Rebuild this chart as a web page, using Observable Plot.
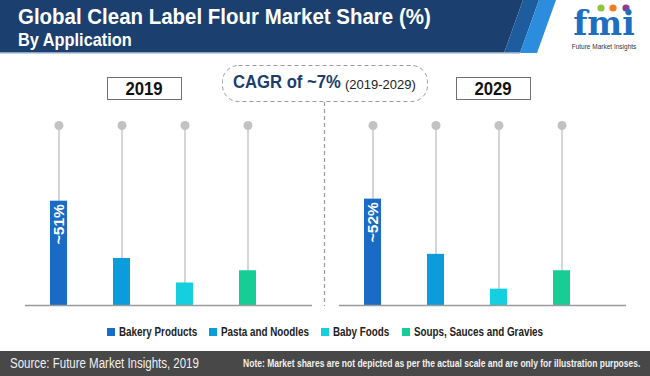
<!DOCTYPE html>
<html><head><meta charset="utf-8">
<script src="https://cdn.jsdelivr.net/npm/d3@7"></script>
<script src="https://cdn.jsdelivr.net/npm/@observablehq/plot@0.6"></script>
<style>
body{margin:0;background:#fff;}
#root{position:relative;width:650px;height:376px;overflow:hidden;background:#fff;font-family:"Liberation Sans",Arial,sans-serif;}
.abs{position:absolute;}
#title{left:18px;top:5px;color:#fff;font-weight:bold;font-size:22px;line-height:24px;white-space:nowrap;transform:scaleX(0.93);transform-origin:left top;}
#subtitle{left:18px;top:29px;color:#fff;font-weight:bold;font-size:19px;line-height:21px;white-space:nowrap;transform:scaleX(0.86);transform-origin:left top;}
.yearbox{top:77px;width:73px;height:21px;border:1.5px solid #707070;background:#fff;text-align:center;font-weight:bold;font-size:18px;line-height:22px;color:#111;}
.yearbox span{display:inline-block;transform:scaleX(0.93);}
.cg{white-space:nowrap;}
#cagrBig{left:233px;top:73px;font-weight:bold;font-size:18.5px;line-height:18.5px;color:#1b3e6f;transform:scaleX(0.9);transform-origin:left top;}
#cagrSmall{left:345px;top:78px;font-size:13px;line-height:13px;color:#222;}
#legend{left:0;top:325px;width:650px;display:flex;justify-content:center;font-weight:bold;font-size:12px;line-height:14px;color:#222;}
.item{display:flex;align-items:center;margin:0 6px;}
.sw{width:8px;height:8px;margin-right:4px;}
.lt{white-space:nowrap;}
.lt span{display:inline-block;transform:scaleX(0.82);transform-origin:left center;}
#footer{left:0;top:351px;width:650px;height:25px;background:#484848;}
#source{left:10px;top:4px;color:#f0f0f0;font-size:14px;line-height:17px;white-space:nowrap;transform:scaleX(0.82);transform-origin:left top;}
#note{right:10px;top:6px;color:#f0f0f0;font-weight:bold;font-size:10px;line-height:13px;white-space:nowrap;transform:scaleX(0.85);transform-origin:right top;}
</style></head><body><div id="root">
<svg class="abs" style="left:0;top:0" width="650" height="55">
<polygon points="0,0 523,0 504,53 0,53" fill="#1b3f6e"/>
<polygon points="523,0 539,0 520,53 504,53" fill="#1f5c9e"/>
<polygon points="539,0 556,0 537,53 520,53" fill="#2c8ddf"/>
<rect x="0" y="52" width="520" height="1.5" fill="#8aa4c4"/>
<circle cx="601" cy="8" r="3.6" fill="#8cc63f"/>
<circle cx="613" cy="8" r="3.6" fill="#f47b20"/>
<circle cx="626" cy="8" r="3.6" fill="#8e3a8e"/>
<text x="604" y="35" text-anchor="middle" font-family="DejaVu Serif" font-weight="bold" font-size="33" fill="#1f6fc1">fmi</text>
<text x="604" y="49" text-anchor="middle" font-family="Liberation Sans" font-size="6.5" fill="#333">Future Market Insights</text>
</svg>
<div id="title" class="abs">Global Clean Label Flour Market Share (%)</div>
<div id="subtitle" class="abs">By Application</div>
<div id="chart" class="abs" style="left:0;top:55px;"></div>
<svg class="abs" style="left:0;top:0" width="650" height="320">
<rect x="222.5" y="65.5" width="205" height="36" rx="16" ry="16" fill="#fff" stroke="#9a9a9a" stroke-width="1" stroke-dasharray="4,3"/>
<line x1="324.5" y1="102" x2="324.5" y2="306" stroke="#9a9a9a" stroke-width="1.2" stroke-dasharray="4,3"/>
</svg>
<div id="cagrBig" class="abs cg">CAGR of ~7%</div>
<div id="cagrSmall" class="abs cg">(2019-2029)</div>
<div id="y2019" class="abs yearbox" style="left:107px"></div>
<div id="y2029" class="abs yearbox" style="left:456px"></div>
<div id="legend" class="abs"></div>
<div id="footer" class="abs">
<div id="source" class="abs">Source: Future Market Insights, 2019</div>
<div id="note" class="abs">Note: Market shares are not depicted as per the actual scale and are only for illustration purposes.</div>
</div>
</div>
<script>
const years = ["2019", "2029"];
const categories = ["Bakery Products", "Pasta and Noodles", "Baby Foods", "Soups, Sauces and Gravies"];
const colors = ["#1a6bc5", "#0b9cdb", "#13cfe0", "#17cd96"];
const share2019 = [51, 23, 11, 17];
const share2029 = [52, 25, 8, 17];
const yMax = 88;

const series = [share2019, share2029];
const data = [];
years.forEach((yr, i) => categories.forEach((c, j) => data.push({year: yr, category: c, value: series[i][j]})));

document.getElementById("y2019").innerHTML = "<span>" + years[0] + "</span>";
document.getElementById("y2029").innerHTML = "<span>" + years[1] + "</span>";

const chart = Plot.plot({
  width: 650, height: 260,
  marginLeft: 24, marginRight: 24, marginTop: 70, marginBottom: 10,
  facet: {data, x: "year"},
  fx: {domain: years, paddingInner: 0.086, paddingOuter: 0, axis: null, label: null},
  x: {domain: categories, paddingInner: 0.734, paddingOuter: 0.613, align: 0.312, axis: null},
  y: {domain: [0, yMax], axis: null},
  color: {domain: categories, range: colors},
  style: {background: "transparent"},
  marks: [
    Plot.ruleX(data, {x: "category", stroke: "#c9c9c9", strokeWidth: 1.5}),
    Plot.dot(data, {x: "category", frameAnchor: "top", r: 4.5, fill: "#c2c2c2", stroke: null}),
    Plot.barY(data, {x: "category", y: "value", fill: "category"}),
    Plot.ruleY([0], {stroke: "#9a9a9a", strokeWidth: 1.5}),
    Plot.text(data, {filter: d => d.category === categories[0], x: "category", y: "value",
      text: d => "~" + d.value + "%", rotate: -90, textAnchor: "end", dy: 3,
      fill: "white", fontWeight: "bold", fontSize: 15.5, fontFamily: "Liberation Sans, Arial, sans-serif"})
  ]
});
document.getElementById("chart").appendChild(chart);

const legend = document.getElementById("legend");
categories.forEach((c, i) => {
  const it = document.createElement("div"); it.className = "item";
  const sw = document.createElement("div"); sw.className = "sw"; sw.style.background = colors[i];
  const wrap = document.createElement("div"); wrap.className = "lt";
  const t = document.createElement("span"); t.textContent = c;
  wrap.appendChild(t);
  it.appendChild(sw); it.appendChild(wrap); legend.appendChild(it);
  wrap.style.width = t.getBoundingClientRect().width + "px";
});
</script>
</body></html>
